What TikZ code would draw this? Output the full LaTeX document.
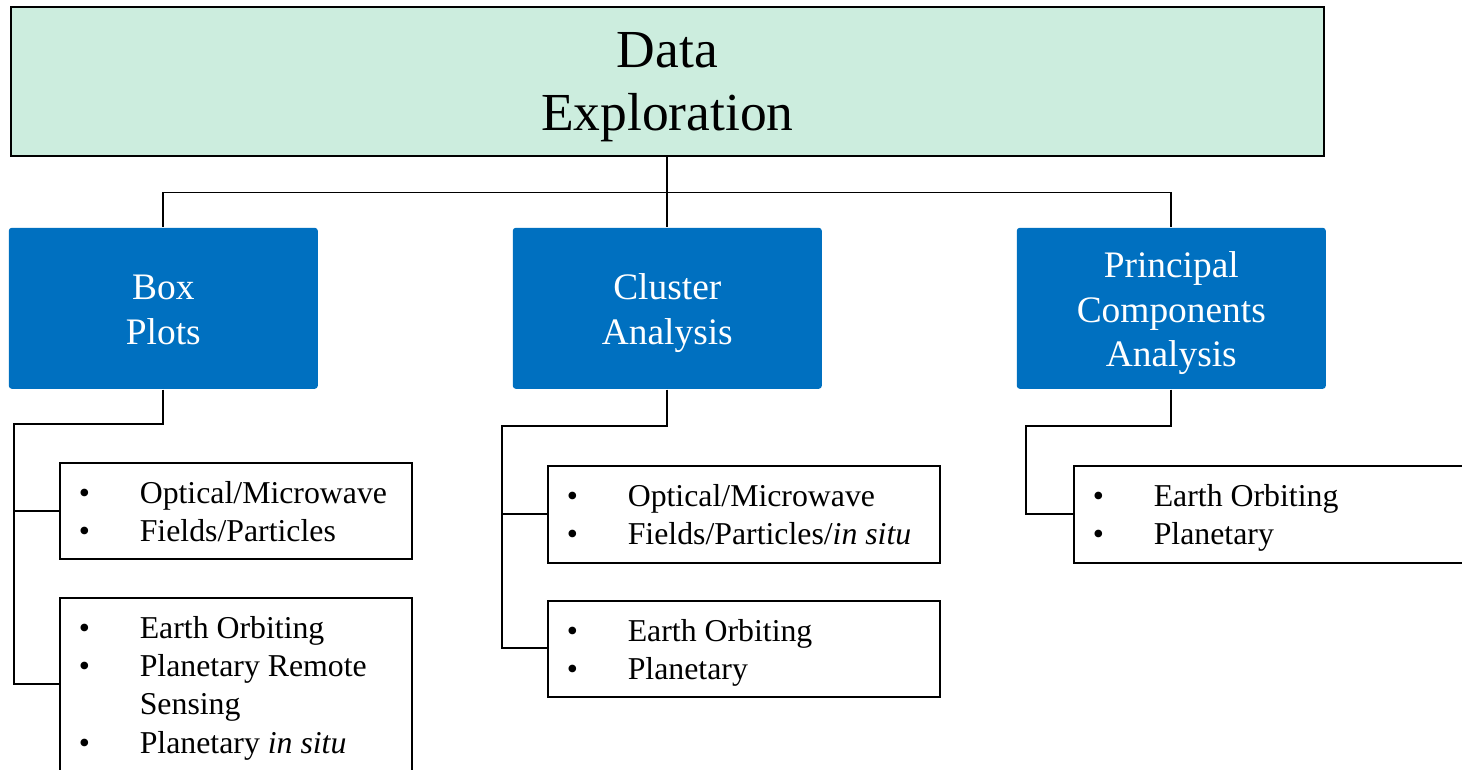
\documentclass[tikz,border=0pt]{standalone}
\usepackage{fontspec}
\setmainfont{Liberation Serif}
\definecolor{mint}{RGB}{204,237,222}
\definecolor{mblue}{RGB}{0,112,192}
\begin{document}
\begin{tikzpicture}[x=1pt,y=-1pt,line width=1.6pt,
  topbox/.style={draw=black,fill=mint,minimum width=1313pt,minimum height=149pt,anchor=north west,inner sep=0pt},
  toptext/.style={inner sep=0pt,align=center,font=\fontsize{53.5}{63}\selectfont},
  catbox/.style={fill=mblue,rounded corners=3pt,minimum width=309pt,minimum height=161pt,anchor=north west,inner sep=0pt},
  cattext/.style={inner sep=0pt,align=center,text=white,font=\fontsize{37.4}{44.5}\selectfont},
  listbox/.style={draw=black,anchor=north west,inner sep=0pt,minimum width=#1},
  listtext/.style={anchor=north west,inner sep=0pt,font=\fontsize{31.8}{38.3}\selectfont},
  conn/.style={draw=black,line width=1.8pt}]
\useasboundingbox (0,0) rectangle (1462,770);
\clip (0,0) rectangle (1462,770);

\node[topbox] (top) at (10,6) {};
\node[toptext] (topt) at ([yshift=-5.4pt]top.center) {\strut Data\\\strut Exploration};

\node[catbox] (bp) at (8,227) {};
\node[catbox] (ca) at (512,227) {};
\node[catbox] (pca) at (1016,227) {};
\node[cattext] (bpt) at ([yshift=-5pt]bp.center) {\strut Box\\\strut Plots};
\node[cattext] (cat) at ([yshift=-5pt]ca.center) {\strut Cluster\\\strut Analysis};
\node[cattext] (pcat) at ([yshift=-5pt]pca.center) {\strut Principal\\\strut Components\\\strut Analysis};

\node[listbox=352pt,minimum height=96pt] (b1) at (59,462) {};
\node[listbox=352pt,minimum height=180pt] (b2) at (59,597) {};
\node[listbox=392pt,minimum height=97pt] (c1) at (547,465) {};
\node[listbox=392pt,minimum height=96pt] (c2) at (547,600) {};
\node[listbox=392pt,minimum height=97pt] (p1) at (1073,465) {};

\node[listtext] (b1t) at ([shift={(19,13.7)}]b1.north west) {\begin{tabular}{@{}p{61pt}@{}l@{}}\textbullet & Optical/Microwave\\ \textbullet & Fields/Particles\end{tabular}};
\node[listtext] (b2t) at ([shift={(19,13.7)}]b2.north west) {\begin{tabular}{@{}p{61pt}@{}l@{}}\textbullet & Earth Orbiting\\ \textbullet & Planetary Remote\\ & Sensing\\ \textbullet & Planetary \textit{in situ}\end{tabular}};
\node[listtext] (c1t) at ([shift={(19,13.7)}]c1.north west) {\begin{tabular}{@{}p{61pt}@{}l@{}}\textbullet & Optical/Microwave\\ \textbullet & Fields/Particles/\textit{in situ}\end{tabular}};
\node[listtext] (c2t) at ([shift={(19,13.7)}]c2.north west) {\begin{tabular}{@{}p{61pt}@{}l@{}}\textbullet & Earth Orbiting\\ \textbullet & Planetary\end{tabular}};
\node[listtext] (p1t) at ([shift={(19,13.7)}]p1.north west) {\begin{tabular}{@{}p{61pt}@{}l@{}}\textbullet & Earth Orbiting\\ \textbullet & Planetary\end{tabular}};

% top-level connectors
\draw[conn] (top.south) -- ++(0,36) coordinate (hub);
\draw[conn] (bp.north) |- (hub) -| (pca.north);
\draw[conn] (hub) -- (ca.north);

% Box plots branch
\coordinate (bpA) at (14,424);
\coordinate (bpB) at (14,684);
\draw[conn] (bp.south) |- (bpA) -- (bpB) -- (b2.west |- bpB);
\draw[conn] (bpA |- b1.west) -- (b1.west);

% Cluster branch
\coordinate (caA) at (502,426);
\coordinate (caB) at (502,648);
\draw[conn] (ca.south) |- (caA) -- (caB) -- (c2.west |- caB);
\draw[conn] (caA |- c1.west) -- (c1.west);

% PCA branch
\coordinate (pA) at (1026,426);
\draw[conn] (pca.south) |- (pA) |- (p1.west);
\end{tikzpicture}
\end{document}
